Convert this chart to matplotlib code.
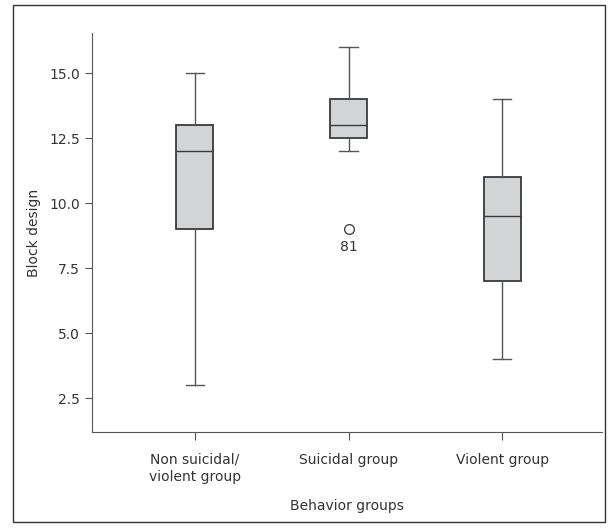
import matplotlib.pyplot as plt
from matplotlib.patches import Rectangle

plt.rcParams['font.family'] = ['DejaVu Sans']

groups = ['Non suicidal/\nviolent group', 'Suicidal group', 'Violent group']
whislo = [3.0, 12.0, 4.0]
q1 = [9.0, 12.5, 7.0]
med = [12.0, 13.0, 9.5]
q3 = [13.0, 14.0, 11.0]
whishi = [15.0, 16.0, 14.0]
fliers = [[], [9.0], []]
flier_ids = [[], ['81'], []]

stats = []
for i in range(len(groups)):
    stats.append(dict(whislo=whislo[i], q1=q1[i], med=med[i], q3=q3[i],
                      whishi=whishi[i], fliers=fliers[i]))

fig = plt.figure(figsize=(6.16, 5.30), dpi=100)
fig.patches.append(Rectangle((13/616, 8/530), 592/616, 517/530, transform=fig.transFigure,
                             fill=False, edgecolor='#333333', linewidth=1.0))
ax = fig.add_axes([92/616, 98/530, 510/616, 399/530])

edge = '#3a3a3a'
ax.bxp(stats, positions=[1, 2, 3], widths=0.24, patch_artist=True,
       boxprops=dict(facecolor='#d3d4d6', edgecolor=edge, linewidth=1.3),
       medianprops=dict(color=edge, linewidth=1.0),
       whiskerprops=dict(color='#555555', linewidth=1.0),
       capprops=dict(color='#555555', linewidth=1.0),
       capwidths=0.12,
       flierprops=dict(marker='o', markerfacecolor='white', markeredgecolor='#333333',
                       markersize=7, markeredgewidth=0.9))

for i in range(len(groups)):
    for v, lab in zip(fliers[i], flier_ids[i]):
        ax.annotate(lab, (i + 1, v), xytext=(0, -8), textcoords='offset points',
                    ha='center', va='top', fontsize=10, color='#333333')

fs = 10
ax.set_xlim(0.33, 3.65)
ax.set_ylim(1.2, 16.55)
ax.set_yticks([2.5, 5.0, 7.5, 10.0, 12.5, 15.0])
ax.set_yticklabels(['2.5', '5.0', '7.5', '10.0', '12.5', '15.0'])
ax.set_xticks([1, 2, 3])
ax.set_xticklabels(groups, fontsize=fs, color='#333333', linespacing=1.25)
ax.tick_params(axis='y', labelsize=fs, labelcolor='#333333', color='#555555', length=5)
ax.tick_params(axis='x', color='#555555', length=6, pad=9)
for s in ['top', 'right']:
    ax.spines[s].set_visible(False)
for s in ['left', 'bottom']:
    ax.spines[s].set_color('#555555')
ax.set_ylabel('Block design', fontsize=fs, color='#333333', labelpad=6)
ax.set_xlabel('Behavior groups', fontsize=fs, color='#333333', labelpad=11)

plt.savefig('out.png', dpi=100)
